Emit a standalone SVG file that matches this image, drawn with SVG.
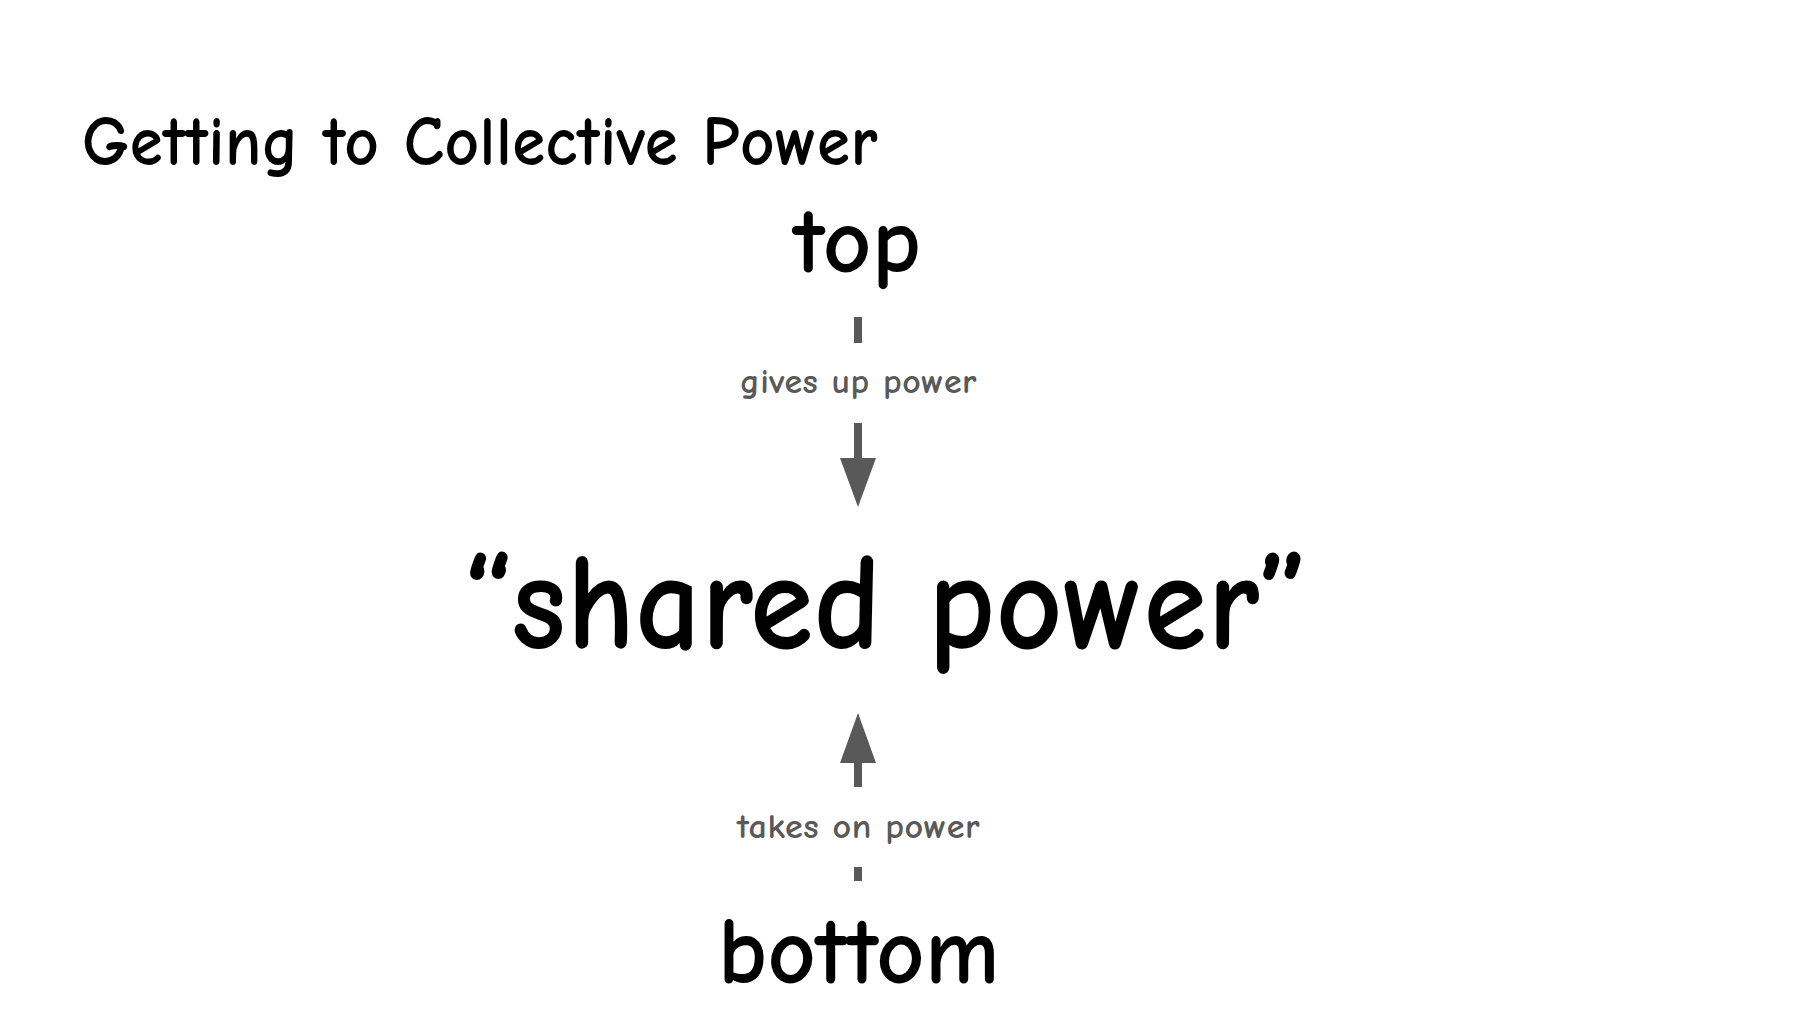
<svg xmlns="http://www.w3.org/2000/svg" width="1807" height="1015" viewBox="0 0 1807 1015">
<style>
text{font-family:"Comic Sans MS","Comic Neue","Noto Sans",sans-serif;font-variant-ligatures:none;font-feature-settings:"liga" 0,"clig" 0,"dlig" 0,"calt" 0,"rlig" 0;letter-spacing:0.5px;font-weight:700}
.node{fill:#000}
.lbl{fill:#595959;font-size:35px;text-anchor:middle}
.edge{stroke:#595959;stroke-width:8;fill:none}
.head{fill:#595959}
</style>
<rect width="1807" height="1015" fill="#fff"/>
<g id="title"><text class="node" x="82" y="165" font-size="71" textLength="796" lengthAdjust="spacingAndGlyphs">Getting to Collective Power</text></g>
<g id="connectors">
<line class="edge" x1="858" y1="317" x2="858" y2="462"/>
<polygon class="head" points="840,458 876,458 858,507"/>
<rect x="735" y="343" width="248" height="80" fill="#fff"/>
<text class="lbl" x="858.5" y="393" textLength="237" lengthAdjust="spacingAndGlyphs">gives up power</text>
<line class="edge" x1="858" y1="881" x2="858" y2="759"/>
<polygon class="head" points="840,763 876,763 858,713"/>
<rect x="732" y="787" width="254" height="80" fill="#fff"/>
<text class="lbl" x="858.5" y="838" textLength="243" lengthAdjust="spacingAndGlyphs">takes on power</text>
</g>
<g id="node-top"><text class="node" x="857.5" y="272" font-size="94" text-anchor="middle" textLength="128" lengthAdjust="spacingAndGlyphs">top</text></g>
<g id="node-shared"><text class="node" x="885.5" y="648" font-size="138" text-anchor="middle" textLength="845" lengthAdjust="spacingAndGlyphs">“shared power”</text></g>
<g id="node-bottom"><text class="node" x="859" y="983" font-size="96" text-anchor="middle" textLength="282" lengthAdjust="spacingAndGlyphs">bottom</text></g>
</svg>
